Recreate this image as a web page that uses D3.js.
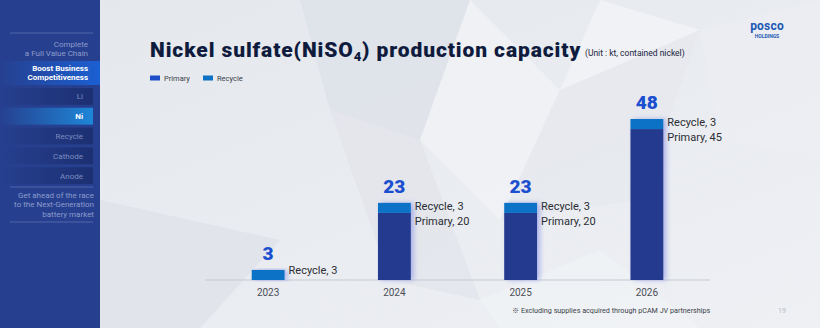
<!DOCTYPE html>
<html>
<head>
<meta charset="utf-8">
<script src="https://cdn.jsdelivr.net/npm/d3@7"></script>
<style>
  body { margin: 0; background: #e9ecf1; }
  svg { display: block; font-family: "Roboto", "Noto Sans", sans-serif; }
</style>
</head>
<body>
<svg id="chart" width="820" height="328"></svg>
<script>
const years = ["2023", "2024", "2025", "2026"];
const primary = [0, 20, 20, 45];
const recycle = [3, 3, 3, 3];
const totals = [3, 23, 23, 48];

const navItems = ["Li", "Ni", "Recycle", "Cathode", "Anode"];

const width = 820, height = 328;
const margin = {left: 205, right: 110, top: 100, bottom: 48};

const colors = {primary: "#233a8e", recycle: "#0b72c6", total: "#1b4fcf"};

const svg = d3.select('#chart');
const defs = svg.append('defs');

// background
const bg = defs.append('linearGradient').attr('id', 'bgGrad')
    .attr('x1', 0).attr('y1', 0).attr('x2', 1).attr('y2', 1);
bg.append('stop').attr('offset', 0).attr('stop-color', '#e4e7ec');
bg.append('stop').attr('offset', 1).attr('stop-color', '#eef0f4');
svg.append('rect').attr('width', width).attr('height', height).attr('fill', 'url(#bgGrad)');

const shards = [
    {pts: [[300, 0], [470, 0], [420, 140], [330, 110]], fill: '#dde1e8'},
    {pts: [[420, 140], [470, 0], [560, 90], [500, 220]], fill: '#f1f3f6'},
    {pts: [[330, 110], [420, 140], [480, 300], [390, 280]], fill: '#e2e5eb'},
    {pts: [[560, 90], [700, 30], [640, 200], [500, 220]], fill: '#e6e9ee'},
    {pts: [[100, 200], [280, 240], [200, 328], [100, 328]], fill: '#dfe2e8'},
    {pts: [[480, 300], [600, 250], [700, 328], [500, 328]], fill: '#f0f2f5'},
    {pts: [[700, 30], [820, 0], [820, 160], [720, 140]], fill: '#eceef2'},
    {pts: [[600, 0], [700, 30], [560, 90]], fill: '#f2f4f7'}
];
svg.append('g').selectAll('polygon')
    .data(shards)
    .join('polygon')
        .attr('points', d => d.pts.map(p => p.join(',')).join(' '))
        .attr('fill', d => d.fill)
        .attr('opacity', 0.8);

// sidebar
const side = svg.append('g');
side.append('rect').attr('width', 100).attr('height', height).attr('fill', '#26408f');

const hiGrad = defs.append('linearGradient').attr('id', 'hiGrad');
hiGrad.append('stop').attr('offset', 0).attr('stop-color', '#26408f');
hiGrad.append('stop').attr('offset', 1).attr('stop-color', '#1b5fd2');
const niGrad = defs.append('linearGradient').attr('id', 'niGrad');
niGrad.append('stop').attr('offset', 0).attr('stop-color', '#26408f');
niGrad.append('stop').attr('offset', 1).attr('stop-color', '#1e86d8');
const rowGrad = defs.append('linearGradient').attr('id', 'rowGrad');
rowGrad.append('stop').attr('offset', 0).attr('stop-color', '#26408f');
rowGrad.append('stop').attr('offset', 1).attr('stop-color', '#1c2f72');

side.selectAll('.sideLine')
    .data([33, 187, 222])
    .join('line')
        .classed('sideLine', true)
        .attr('x1', 10).attr('x2', 93)
        .attr('y1', d => d).attr('y2', d => d)
        .attr('stroke', '#5a6fb0').attr('stroke-width', 0.8);

side.append('text').attr('x', 88).attr('y', 47).attr('text-anchor', 'end')
    .attr('font-size', 8).attr('fill', '#8d9bcb').text('Complete');
side.append('text').attr('x', 88).attr('y', 56).attr('text-anchor', 'end')
    .attr('font-size', 8).attr('fill', '#8d9bcb').text('a Full Value Chain');

side.append('rect').attr('x', 0).attr('y', 61).attr('width', 100).attr('height', 24).attr('fill', 'url(#hiGrad)');
side.append('text').attr('x', 88).attr('y', 71).attr('text-anchor', 'end')
    .attr('font-size', 8).attr('font-weight', 700).attr('fill', '#ffffff').text('Boost Business');
side.append('text').attr('x', 88).attr('y', 80).attr('text-anchor', 'end')
    .attr('font-size', 8).attr('font-weight', 700).attr('fill', '#ffffff').text('Competitiveness');

const navY = d3.scaleBand().domain(navItems).range([88, 184]).paddingInner(0.15);
side.selectAll('.navRow')
    .data(navItems)
    .join('rect')
        .classed('navRow', true)
        .attr('x', 0).attr('y', d => navY(d))
        .attr('width', 93).attr('height', navY.bandwidth())
        .attr('fill', d => d === 'Ni' ? 'url(#niGrad)' : 'url(#rowGrad)');
side.selectAll('.navText')
    .data(navItems)
    .join('text')
        .classed('navText', true)
        .attr('x', 83).attr('y', d => navY(d) + navY.bandwidth() / 2 + 3)
        .attr('text-anchor', 'end')
        .attr('font-size', 8)
        .attr('font-weight', d => d === 'Ni' ? 700 : 400)
        .attr('fill', d => d === 'Ni' ? '#ffffff' : '#7d8cc0')
        .text(d => d);

["Get ahead of the race", "to the Next-Generation", "battery market"].forEach((t, i) => {
    side.append('text').attr('x', 94).attr('y', 198 + i * 9.3).attr('text-anchor', 'end')
        .attr('font-size', 8).attr('fill', '#8d9bcb').text(t);
});

// title
const title = svg.append('text').attr('x', 150).attr('y', 57)
    .attr('font-family', 'Roboto, sans-serif').attr('font-weight', 900)
    .attr('font-size', 21).attr('letter-spacing', 0.9).attr('fill', '#0f1b3d');
title.append('tspan').text('Nickel sulfate(NiSO');
title.append('tspan').attr('font-size', 13).attr('dy', 4).text('4');
title.append('tspan').attr('dy', -4).text(') production capacity');
svg.append('text').attr('x', 585).attr('y', 56)
    .attr('font-size', 8.5).attr('fill', '#1a2440').text('(Unit : kt, contained nickel)');

// logo
svg.append('text').attr('x', 767).attr('y', 30).attr('text-anchor', 'middle')
    .attr('font-size', 12).attr('font-weight', 700).attr('fill', '#1a58b2')
    .attr('letter-spacing', 0.2).text('posco');
svg.append('text').attr('x', 767).attr('y', 38).attr('text-anchor', 'middle')
    .attr('font-size', 5).attr('font-weight', 700).attr('fill', '#1a58b2').text('HOLDINGS');

// legend
const legend = svg.append('g').attr('transform', 'translate(150, 78)');
const legendItems = [{name: 'Primary', color: colors.primary, x: 0}, {name: 'Recycle', color: colors.recycle, x: 53}];
legend.selectAll('rect')
    .data(legendItems)
    .join('rect')
        .attr('x', d => d.x).attr('y', -2.5)
        .attr('width', 10).attr('height', 5)
        .attr('fill', d => d.name === 'Primary' ? '#1e4fc8' : d.color);
legend.selectAll('text')
    .data(legendItems)
    .join('text')
        .attr('x', d => d.x + 14).attr('y', 3)
        .attr('font-size', 7.5).attr('fill', '#3a3f4a')
        .text(d => d.name);

// chart
const innerBottom = height - margin.bottom;
const xScale = d3.scaleBand().domain(years).range([205, 710]).paddingInner(0.74).paddingOuter(0.37);
const yScale = d3.scaleLinear().domain([0, 48]).range([innerBottom, innerBottom - 161]);

const data = years.map((y, i) => ({year: y, primary: primary[i], recycle: recycle[i], total: totals[i]}));

svg.append('line')
    .attr('x1', 205).attr('x2', 710)
    .attr('y1', innerBottom).attr('y2', innerBottom)
    .attr('stroke', '#c5cad3').attr('stroke-width', 1);

const glow = defs.append('filter').attr('id', 'glow').attr('x', '-50%').attr('y', '-10%').attr('width', '200%').attr('height', '120%');
glow.append('feGaussianBlur').attr('stdDeviation', 2.5);

const bars = svg.append('g');
bars.selectAll('.shadow')
    .data(data)
    .join('rect')
        .classed('shadow', true)
        .attr('x', d => xScale(d.year) + 3)
        .attr('y', d => yScale(d.total))
        .attr('width', xScale.bandwidth())
        .attr('height', d => yScale(0) - yScale(d.total))
        .attr('fill', '#7e86e6').attr('opacity', 0.55)
        .attr('filter', 'url(#glow)');

bars.selectAll('.primary')
    .data(data)
    .join('rect')
        .classed('primary', true)
        .attr('x', d => xScale(d.year))
        .attr('y', d => yScale(d.primary))
        .attr('width', xScale.bandwidth())
        .attr('height', d => yScale(0) - yScale(d.primary))
        .attr('fill', colors.primary);

bars.selectAll('.recycle')
    .data(data)
    .join('rect')
        .classed('recycle', true)
        .attr('x', d => xScale(d.year))
        .attr('y', d => yScale(d.total))
        .attr('width', xScale.bandwidth())
        .attr('height', d => yScale(d.primary) - yScale(d.total))
        .attr('fill', colors.recycle);

bars.selectAll('.totalLabel')
    .data(data)
    .join('text')
        .classed('totalLabel', true)
        .attr('x', d => xScale(d.year) + xScale.bandwidth() / 2)
        .attr('y', d => yScale(d.total) - 10)
        .attr('text-anchor', 'middle')
        .attr('font-size', 19).attr('font-weight', 900)
        .attr('fill', colors.total)
        .text(d => d.total);

bars.selectAll('.recLabel')
    .data(data)
    .join('text')
        .classed('recLabel', true)
        .attr('x', d => xScale(d.year) + xScale.bandwidth() + 4)
        .attr('y', d => yScale(d.total) + (d.primary > 0 ? 7 : 4))
        .attr('font-size', 11).attr('fill', '#2a2d33')
        .text(d => `Recycle, ${d.recycle}`);

bars.selectAll('.primLabel')
    .data(data.filter(d => d.primary > 0))
    .join('text')
        .classed('primLabel', true)
        .attr('x', d => xScale(d.year) + xScale.bandwidth() + 4)
        .attr('y', d => yScale(d.total) + 22)
        .attr('font-size', 11).attr('fill', '#2a2d33')
        .text(d => `Primary, ${d.primary}`);

svg.append('g')
    .selectAll('text')
    .data(years)
    .join('text')
        .attr('x', d => xScale(d) + xScale.bandwidth() / 2)
        .attr('y', innerBottom + 16)
        .attr('text-anchor', 'middle')
        .attr('font-size', 10).attr('fill', '#4a4e57')
        .text(d => d);

// footnote
const note = svg.append('text').attr('x', 512).attr('y', 313)
    .attr('font-size', 7.2).attr('fill', '#3a3f4a');
note.append('tspan').attr('font-family', '"Noto Sans CJK JP", "DejaVu Sans", sans-serif').text('※');
note.append('tspan').text(' Excluding supplies acquired through pCAM JV partnerships');
svg.append('text').attr('x', 778).attr('y', 313)
    .attr('font-size', 7).attr('fill', '#b5bac4').text('19');
</script>
</body>
</html>
